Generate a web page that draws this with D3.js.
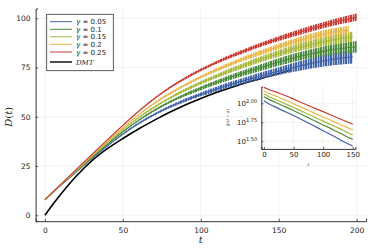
<!DOCTYPE html>
<html>
<head>
<meta charset="utf-8">
<script src="https://cdn.jsdelivr.net/npm/d3@7"></script>
<style>
  body { margin: 0; background: #fff; }
  svg { display: block; }
  text { font-family: "DejaVu Sans", sans-serif; fill: #222; }
  .math { font-family: "DejaVu Serif", serif; font-style: italic; }
</style>
</head>
<body>
<script>
// Series labels and colours
const gammas = ["0.05", "0.1", "0.15", "0.2", "0.25"];
const colors = ["#4063a8", "#4a8a3c", "#a8b83a", "#e8b84c", "#c93c36"];

// Main panel: mean D(t) read every 10 in t, plus half-width of the noisy band
const tMain = [0, 10, 20, 30, 40, 50, 60, 70, 80, 90, 100, 110, 120, 130, 140, 150, 160, 170, 180, 190, 200];
const tEnd = [197.5, 200, 197.5, 195, 200];   // last sample of each run

const dG005 = [8, 15.1, 22, 28.8, 35.2, 41.2, 46.6, 51.1, 55, 58.4, 61.4, 64.1, 66.6, 68.9, 71.1, 73.2, 75.2, 77, 78.6, 79.8, 80.5];
const dG01  = [8, 15.3, 22.3, 29.3, 36, 42.4, 48.2, 53.2, 57.5, 61.2, 64.5, 67.5, 70.3, 72.9, 75.4, 77.8, 80, 81.9, 83.5, 84.7, 85.6];
const dG015 = [8, 15.4, 22.6, 29.8, 36.8, 43.5, 49.6, 54.9, 59.5, 63.6, 67.3, 70.6, 73.8, 76.8, 79.6, 82.2, 84.6, 86.6, 88.3, 89.8, 90.7];
const dG02  = [8, 15.5, 22.9, 30.3, 37.5, 44.5, 51, 56.8, 61.8, 66.2, 70.2, 73.8, 77.1, 80.2, 83, 85.7, 88.2, 90.4, 92.3, 93.6, 94];
const dG025 = [8, 15.6, 23.2, 30.8, 38.3, 45.7, 52.7, 59.2, 64.8, 69.6, 73.8, 77.6, 81, 84.1, 87, 89.7, 92.2, 94.6, 96.8, 98.8, 100.6];
const mainSeries = [dG005, dG01, dG015, dG02, dG025];

const sG005 = [0, 0, 0.1, 0.2, 0.3, 0.4, 0.5, 0.6, 0.7, 0.85, 1.0, 1.2, 1.4, 1.6, 1.8, 2.0, 2.3, 2.6, 2.9, 3.2, 3.4];
const sG01  = [0, 0, 0.1, 0.2, 0.3, 0.35, 0.45, 0.55, 0.65, 0.8, 0.95, 1.1, 1.3, 1.5, 1.7, 1.9, 2.1, 2.3, 2.5, 2.7, 2.9];
const sG015 = [0, 0, 0.1, 0.15, 0.25, 0.3, 0.4, 0.5, 0.6, 0.75, 0.9, 1.0, 1.2, 1.35, 1.5, 1.7, 1.85, 2.0, 2.2, 2.4, 2.5];
const sG02  = [0, 0, 0.1, 0.15, 0.2, 0.3, 0.35, 0.45, 0.55, 0.65, 0.8, 0.9, 1.0, 1.15, 1.3, 1.45, 1.6, 1.75, 1.9, 2.0, 2.1];
const sG025 = [0, 0, 0.1, 0.15, 0.2, 0.25, 0.3, 0.4, 0.5, 0.6, 0.7, 0.8, 0.9, 1.0, 1.1, 1.25, 1.4, 1.5, 1.6, 1.7, 1.8];
const mainSpread = [sG005, sG01, sG015, sG02, sG025];

const tDMT = [0, 5, 10, 20, 30, 40, 50, 60, 70, 80, 90, 100, 110, 120, 130, 140, 150, 158];
const dDMT = [0, 5.5, 10.5, 19.8, 27.6, 33.8, 39, 43.8, 48.2, 52.3, 56, 59.3, 62.3, 65, 67.5, 69.8, 72, 73.8];

// Inset: log10 of the deviation, every 10 in t
const tInset = [0, 10, 20, 30, 40, 50, 60, 70, 80, 90, 100, 110, 120, 130, 140, 150];
const logG005 = [2.034, 1.985, 1.95, 1.91, 1.875, 1.84, 1.8, 1.76, 1.72, 1.68, 1.64, 1.6, 1.56, 1.515, 1.475, 1.438];
const logG01  = [2.087, 2.045, 2.01, 1.975, 1.94, 1.905, 1.865, 1.83, 1.79, 1.755, 1.715, 1.68, 1.638, 1.602, 1.56, 1.526];
const logG015 = [2.122, 2.08, 2.05, 2.013, 1.98, 1.945, 1.91, 1.872, 1.84, 1.8, 1.765, 1.73, 1.695, 1.66, 1.62, 1.583];
const logG02  = [2.162, 2.125, 2.097, 2.062, 2.03, 1.995, 1.96, 1.927, 1.89, 1.855, 1.82, 1.787, 1.752, 1.718, 1.683, 1.649];
const logG025 = [2.21, 2.175, 2.15, 2.12, 2.09, 2.055, 2.02, 1.988, 1.955, 1.92, 1.89, 1.857, 1.824, 1.79, 1.758, 1.724];
const insetSeries = [logG005, logG01, logG015, logG02, logG025];

// Tick values
const xTicks = [0, 50, 100, 150, 200];
const yTicks = [0, 25, 50, 75, 100];
const insetXTicks = [0, 50, 100, 150];
const insetYExp = ["1.50", "1.75", "2.00"];

const W = 374, H = 249;
const svg = d3.select("body").append("svg")
    .attr("width", W)
    .attr("height", H);

const x = d3.scaleLinear().domain([-6, 206]).range([35.6, 366]);
const y = d3.scaleLinear().domain([-3, 105]).range([221.2, 8.5]);

const gridColor = "#e9e9e9";
const axisColor = "#333";

// stripe patterns give the bands the look of a jittery trace
const defs = svg.append("defs");
colors.forEach((c, k) => {
    const p = defs.append("pattern")
        .attr("id", "noise" + k)
        .attr("patternUnits", "userSpaceOnUse")
        .attr("width", 5).attr("height", 7);
    p.append("rect").attr("x", 0).attr("y", 0).attr("width", 2).attr("height", 7)
        .attr("fill", c);
    p.append("rect").attr("x", 2).attr("y", 0).attr("width", 1).attr("height", 7)
        .attr("fill", c).attr("opacity", 0.3);
    p.append("rect").attr("x", 3).attr("y", 0).attr("width", 1).attr("height", 7)
        .attr("fill", c);
    p.append("rect").attr("x", 4).attr("y", 0).attr("width", 1).attr("height", 7)
        .attr("fill", c).attr("opacity", 0.5);
});

// grid
svg.append("g").selectAll("line").data(xTicks).enter().append("line")
    .attr("x1", d => x(d)).attr("x2", d => x(d))
    .attr("y1", y.range()[0]).attr("y2", y.range()[1])
    .attr("stroke", gridColor).attr("stroke-width", 0.6);
svg.append("g").selectAll("line").data(yTicks).enter().append("line")
    .attr("x1", x.range()[0]).attr("x2", x.range()[1])
    .attr("y1", d => y(d)).attr("y2", d => y(d))
    .attr("stroke", gridColor).attr("stroke-width", 0.6);

// axes
const xAxis = svg.append("g")
    .attr("transform", `translate(0,${y.range()[0]})`)
    .call(d3.axisBottom(x).tickValues(xTicks).tickSize(-2.5).tickPadding(6));
const yAxis = svg.append("g")
    .attr("transform", `translate(${x.range()[0]},0)`)
    .call(d3.axisLeft(y).tickValues(yTicks).tickSize(-2.5).tickPadding(5));
[xAxis, yAxis].forEach(a => {
    a.select(".domain").attr("stroke", axisColor).attr("stroke-width", 1);
    a.selectAll(".tick line").attr("stroke", axisColor).attr("stroke-width", 0.8);
    a.selectAll(".tick text").attr("font-size", 7.5).attr("font-family", "DejaVu Sans").attr("fill", "#222");
});

// DMT reference curve
svg.append("path")
    .datum(dDMT)
    .attr("fill", "none")
    .attr("stroke", "#000")
    .attr("stroke-width", 1.6)
    .attr("d", d3.line().x((d, i) => x(tDMT[i])).y(d => y(d)).curve(d3.curveMonotoneX));

// noisy runs: band + centre trace
mainSeries.forEach((s, k) => {
    const pts = s.map((v, i) => ({ t: Math.min(tMain[i], tEnd[k]), v: v, s: mainSpread[k][i] }));
    svg.append("path")
        .datum(pts)
        .attr("fill", `url(#noise${k})`)
        .attr("d", d3.area()
            .x(d => x(d.t))
            .y0(d => y(d.v - d.s))
            .y1(d => y(d.v + d.s))
            .curve(d3.curveMonotoneX));
    svg.append("path")
        .datum(pts)
        .attr("fill", "none")
        .attr("stroke", colors[k])
        .attr("stroke-width", 1.1)
        .attr("d", d3.line().x(d => x(d.t)).y(d => y(d.v)).curve(d3.curveMonotoneX));
});

// axis labels
svg.append("text").attr("x", x(100)).attr("y", 243).attr("text-anchor", "middle")
    .attr("font-size", 10).attr("class", "math").text("t");
const yl = svg.append("text")
    .attr("transform", `translate(12,${y(50)}) rotate(-90)`)
    .attr("text-anchor", "middle").attr("font-size", 10).attr("class", "math");
yl.append("tspan").text("D");
yl.append("tspan").attr("font-style", "normal").text("(");
yl.append("tspan").text("t");
yl.append("tspan").attr("font-style", "normal").text(")");

// legend
const legend = svg.append("g");
legend.append("rect")
    .attr("x", 46.7).attr("y", 14.3).attr("width", 66.6).attr("height", 56.4)
    .attr("fill", "#fff").attr("stroke", "#333").attr("stroke-width", 0.8);
const rowY = [21.7, 29.3, 36.8, 44.3, 52, 62];
gammas.forEach((g, k) => {
    legend.append("line")
        .attr("x1", 50).attr("x2", 72).attr("y1", rowY[k]).attr("y2", rowY[k])
        .attr("stroke", colors[k]).attr("stroke-width", 1);
    const t = legend.append("text").attr("x", 76).attr("y", rowY[k] + 2.6).attr("font-size", 7);
    t.append("tspan").attr("font-family", "DejaVu Serif").attr("font-style", "italic").text("γ");
    t.append("tspan").attr("font-family", "DejaVu Serif").text(" = ");
    t.append("tspan").text(g);
});
legend.append("line")
    .attr("x1", 50).attr("x2", 72).attr("y1", rowY[5]).attr("y2", rowY[5])
    .attr("stroke", "#000").attr("stroke-width", 1.4);
legend.append("text").attr("x", 76).attr("y", rowY[5] + 2.6).attr("font-size", 7)
    .attr("class", "math").text("DMT");

// ---- inset ----
const ix = d3.scaleLinear().domain([-4.5, 154.5]).range([261.3, 355.4]);
const iy = d3.scaleLog().domain([10 ** 1.40, 10 ** 2.22]).range([148.9, 86.6]);
const inset = svg.append("g");

inset.append("rect")
    .attr("x", ix.range()[0]).attr("y", iy.range()[1])
    .attr("width", ix.range()[1] - ix.range()[0])
    .attr("height", iy.range()[0] - iy.range()[1])
    .attr("fill", "#fff");

inset.append("g").selectAll("line").data(insetXTicks).enter().append("line")
    .attr("x1", d => ix(d)).attr("x2", d => ix(d))
    .attr("y1", iy.range()[0]).attr("y2", iy.range()[1])
    .attr("stroke", gridColor).attr("stroke-width", 0.6);
inset.append("g").selectAll("line").data(insetYExp).enter().append("line")
    .attr("x1", ix.range()[0]).attr("x2", ix.range()[1])
    .attr("y1", d => iy(10 ** +d)).attr("y2", d => iy(10 ** +d))
    .attr("stroke", gridColor).attr("stroke-width", 0.6);

const insetLine = d3.line()
    .x((d, i) => ix(tInset[i]))
    .y(d => iy(10 ** d));
insetSeries.forEach((s, k) => {
    inset.append("path")
        .datum(s)
        .attr("fill", "none")
        .attr("stroke", colors[k])
        .attr("stroke-width", 1.2)
        .attr("d", insetLine);
});

const ixAxis = inset.append("g")
    .attr("transform", `translate(0,${iy.range()[0]})`)
    .call(d3.axisBottom(ix).tickValues(insetXTicks).tickSize(-2).tickPadding(3));
const iyAxis = inset.append("g")
    .attr("transform", `translate(${ix.range()[0]},0)`)
    .call(d3.axisLeft(iy).tickValues(insetYExp.map(e => 10 ** +e)).tickSize(-2).tickFormat(""));
[ixAxis, iyAxis].forEach(a => {
    a.select(".domain").attr("stroke", axisColor).attr("stroke-width", 1);
    a.selectAll(".tick line").attr("stroke", axisColor).attr("stroke-width", 0.8);
    a.selectAll(".tick text").attr("font-size", 7).attr("font-family", "DejaVu Sans").attr("fill", "#222");
});

// 10^x tick labels
insetYExp.forEach(e => {
    inset.append("text")
        .attr("x", 246).attr("y", iy(10 ** +e) + 3)
        .attr("text-anchor", "end").attr("font-size", 7).text("10");
    inset.append("text")
        .attr("x", 246).attr("y", iy(10 ** +e) - 0.5)
        .attr("font-size", 5).text(e);
});

inset.append("text").attr("x", (ix.range()[0] + ix.range()[1]) / 2).attr("y", 166)
    .attr("text-anchor", "middle").attr("font-size", 4).attr("class", "math").text("t");
inset.append("text")
    .attr("transform", `translate(229,${(iy.range()[0] + iy.range()[1]) / 2}) rotate(-90)`)
    .attr("text-anchor", "middle").attr("font-size", 4).attr("class", "math").text("|⟨σ⟩ − σ|");
</script>
</body>
</html>
